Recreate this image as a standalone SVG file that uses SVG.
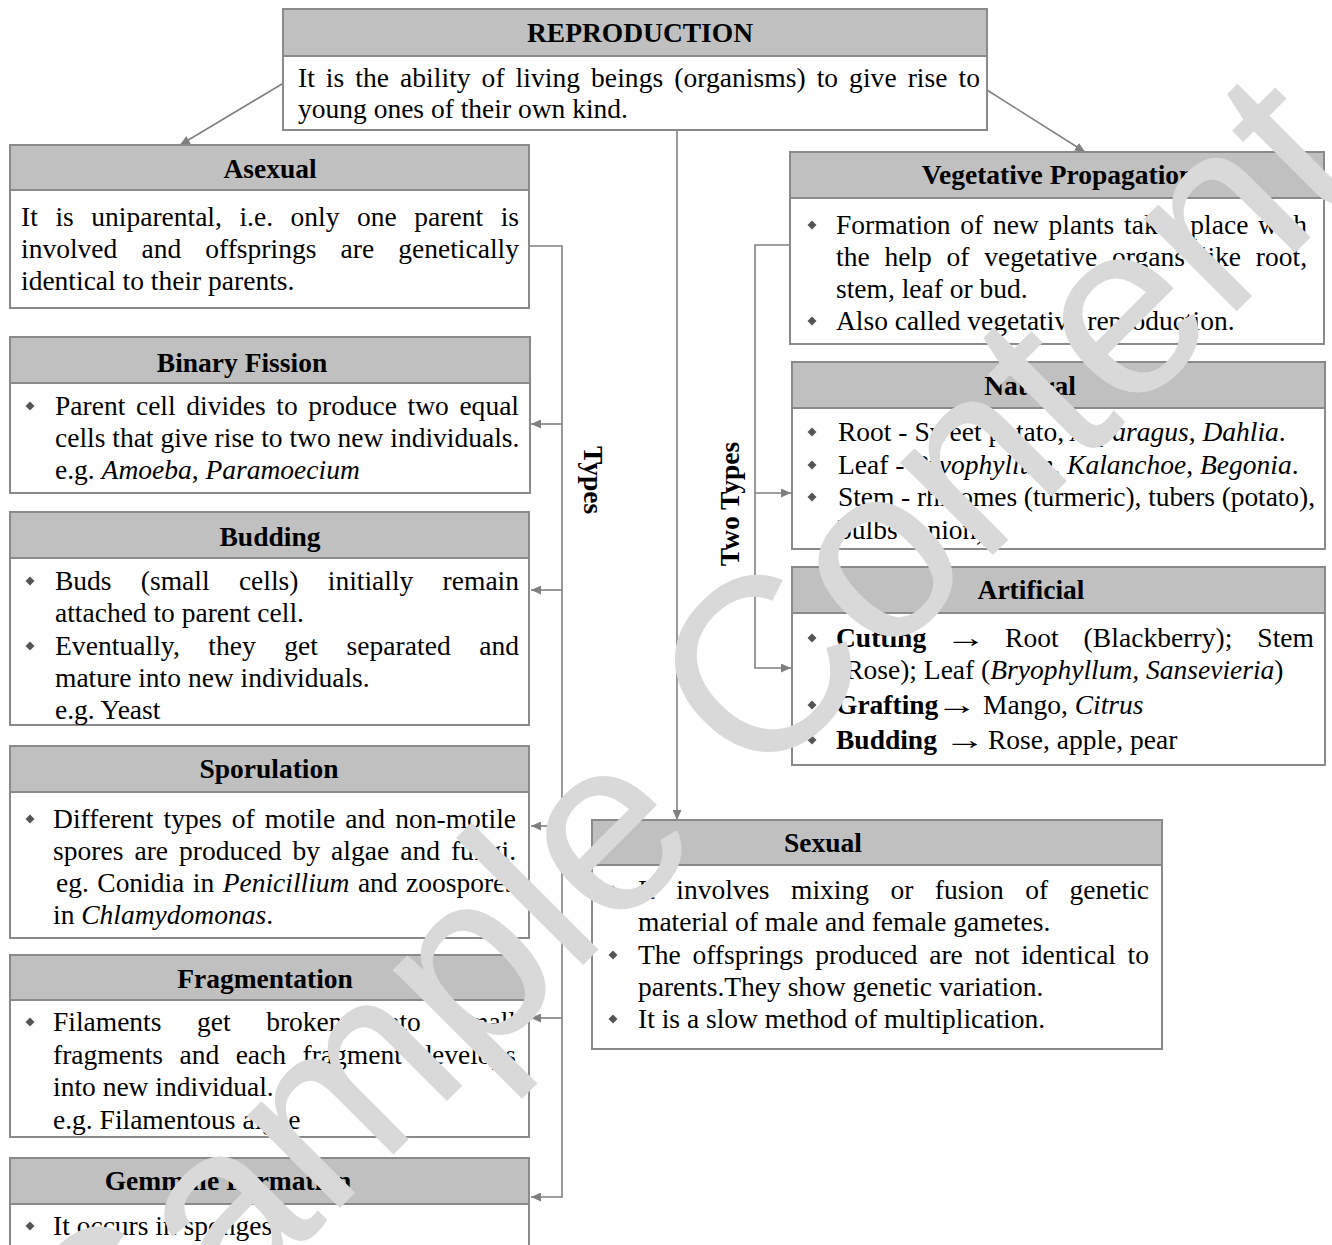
<svg xmlns="http://www.w3.org/2000/svg" width="1332" height="1245" viewBox="0 0 1332 1245">
<style>
.box{fill:#fff;stroke:#8a8a8a;stroke-width:2}
.hd{fill:#c0c0c0;stroke:#8a8a8a;stroke-width:2}
text{font-family:"Liberation Serif","Times New Roman",serif;font-size:27.5px;fill:#000}
.ti{font-weight:bold;text-anchor:middle}
.b{font-weight:bold}
.i{font-style:italic}
.conn{fill:none;stroke:#808080;stroke-width:1.6}
.wm{font-family:"Liberation Sans",Arial,sans-serif;font-size:248px;fill:#d9d9d9;text-anchor:middle}
</style>
<defs>
<marker id="ah" markerUnits="userSpaceOnUse" markerWidth="11" markerHeight="9" refX="10" refY="4.5" orient="auto"><path d="M0,0 L10,4.5 L0,9 z" fill="#808080"/></marker>
<path id="dm" d="M0,-4.5 L4.5,0 L0,4.5 L-4.5,0z" fill="#555"/>
</defs>

<g id="connectors">
<line class="conn" x1="282" y1="84" x2="180" y2="145" marker-end="url(#ah)"/>
<line class="conn" x1="987" y1="90" x2="1085" y2="152" marker-end="url(#ah)"/>
<line class="conn" x1="677" y1="130" x2="677" y2="820" marker-end="url(#ah)"/>
<polyline class="conn" points="529,246 562,246 562,1197 531,1197" marker-end="url(#ah)"/>
<line class="conn" x1="562" y1="424" x2="531" y2="424" marker-end="url(#ah)"/>
<line class="conn" x1="562" y1="590" x2="531" y2="590" marker-end="url(#ah)"/>
<line class="conn" x1="562" y1="826" x2="531" y2="826" marker-end="url(#ah)"/>
<line class="conn" x1="562" y1="1018" x2="531" y2="1018" marker-end="url(#ah)"/>
<polyline class="conn" points="790,245 755,245 755,668 791,668" marker-end="url(#ah)"/>
<line class="conn" x1="755" y1="493" x2="791" y2="493" marker-end="url(#ah)"/>
<text class="b" transform="translate(584,480) rotate(90)" text-anchor="middle">Types</text>
<text class="b" transform="translate(739,504) rotate(-90)" text-anchor="middle">Two Types</text>
</g>

<g id="reproduction">
<rect class="box" x="283" y="9" width="704" height="121"/>
<rect class="hd" x="283" y="9" width="704" height="47"/>
<text class="ti" x="640" y="42">REPRODUCTION</text>
<text x="298" y="87" word-spacing="4" textLength="682" lengthAdjust="spacing">It is the ability of living beings (organisms) to give rise to</text>
<text x="298" y="118">young ones of their own kind.</text>
</g>

<g id="asexual">
<rect class="box" x="10" y="145" width="519" height="163"/>
<rect class="hd" x="10" y="145" width="519" height="45"/>
<text class="ti" x="270" y="178">Asexual</text>
<text x="21" y="226" word-spacing="10.7" textLength="498" lengthAdjust="spacing">It is uniparental, i.e. only one parent is</text>
<text x="21" y="258" word-spacing="17.2" textLength="498" lengthAdjust="spacing">involved and offsprings are genetically</text>
<text x="21" y="290">identical to their parents.</text>
</g>

<g id="binary-fission">
<rect class="box" x="10" y="337" width="520" height="156"/>
<rect class="hd" x="10" y="337" width="520" height="46"/>
<text class="ti" x="242" y="372">Binary Fission</text>
<use href="#dm" x="30" y="406"/>
<text x="55" y="415" word-spacing="3.7" textLength="464" lengthAdjust="spacing">Parent cell divides to produce two equal</text>
<text x="55" y="447">cells that give rise to two new individuals.</text>
<text x="55" y="479">e.g. <tspan class="i">Amoeba</tspan>, <tspan class="i">Paramoecium</tspan></text>
</g>

<g id="budding">
<rect class="box" x="10" y="512" width="519" height="213"/>
<rect class="hd" x="10" y="512" width="519" height="46"/>
<text class="ti" x="270" y="546">Budding</text>
<use href="#dm" x="30" y="581"/>
<use href="#dm" x="30" y="646"/>
<text x="55" y="590" word-spacing="22.4" textLength="464" lengthAdjust="spacing">Buds (small cells) initially remain</text>
<text x="55" y="622">attached to parent cell.</text>
<text x="55" y="655" word-spacing="21.5" textLength="464" lengthAdjust="spacing">Eventually, they get separated and</text>
<text x="55" y="687">mature into new individuals.</text>
<text x="55" y="719">e.g. Yeast</text>
</g>

<g id="sporulation">
<rect class="box" x="10" y="746" width="519" height="192"/>
<rect class="hd" x="10" y="746" width="519" height="46"/>
<text class="ti" x="269" y="778">Sporulation</text>
<use href="#dm" x="30" y="819"/>
<text x="53" y="828" word-spacing="3.2" textLength="463" lengthAdjust="spacing">Different types of motile and non-motile</text>
<text x="53" y="860" word-spacing="4" textLength="463" lengthAdjust="spacing">spores are produced by algae and fungi.</text>
<text x="56" y="892" word-spacing="1.6" textLength="460" lengthAdjust="spacing">eg. Conidia in <tspan class="i">Penicillium</tspan> and zoospores</text>
<text x="53" y="924">in <tspan class="i">Chlamydomonas</tspan>.</text>
</g>

<g id="fragmentation">
<rect class="box" x="10" y="955" width="519" height="182"/>
<rect class="hd" x="10" y="955" width="519" height="45"/>
<text class="ti" x="265" y="988">Fragmentation</text>
<use href="#dm" x="30" y="1022"/>
<text x="53" y="1031" word-spacing="28.7" textLength="463" lengthAdjust="spacing">Filaments get broken into small</text>
<text x="53" y="1064" word-spacing="9.6" textLength="463" lengthAdjust="spacing">fragments and each fragment develops</text>
<text x="53" y="1096">into new individual.</text>
<text x="53" y="1129">e.g. Filamentous algae</text>
</g>

<g id="gemmule-formation">
<rect class="box" x="10" y="1158" width="519" height="100"/>
<rect class="hd" x="10" y="1158" width="519" height="46"/>
<text class="ti" x="228" y="1190">Gemmule Formation</text>
<use href="#dm" x="30" y="1226"/>
<text x="53" y="1235">It occurs in sponges.</text>
</g>

<g id="vegetative-propagation">
<rect class="box" x="790" y="152" width="534" height="192"/>
<rect class="hd" x="790" y="152" width="534" height="46"/>
<text class="ti" x="1058" y="184">Vegetative Propagation</text>
<use href="#dm" x="812" y="225"/>
<use href="#dm" x="812" y="321"/>
<text x="836" y="234" word-spacing="2.9" textLength="471" lengthAdjust="spacing">Formation of new plants takes place with</text>
<text x="836" y="266" word-spacing="7.85" textLength="471" lengthAdjust="spacing">the help of vegetative organs like root,</text>
<text x="836" y="298">stem, leaf or bud.</text>
<text x="836" y="330">Also called vegetative reproduction.</text>
</g>

<g id="natural">
<rect class="box" x="792" y="362" width="533" height="187"/>
<rect class="hd" x="792" y="362" width="533" height="46"/>
<text class="ti" x="1030" y="395">Natural</text>
<use href="#dm" x="812" y="432"/>
<use href="#dm" x="812" y="465"/>
<use href="#dm" x="812" y="497"/>
<text x="838" y="441">Root - Sweet potato, <tspan class="i">Asparagus</tspan>, <tspan class="i">Dahlia</tspan>.</text>
<text x="838" y="474">Leaf - <tspan class="i">Bryophyllum</tspan>, <tspan class="i">Kalanchoe</tspan>, <tspan class="i">Begonia</tspan>.</text>
<text x="838" y="506" textLength="477" lengthAdjust="spacing">Stem - rhizomes (turmeric), tubers (potato),</text>
<text x="838" y="539">bulbs (onion).</text>
</g>

<g id="artificial">
<rect class="box" x="792" y="567" width="533" height="198"/>
<rect class="hd" x="792" y="567" width="533" height="46"/>
<text class="ti" x="1031" y="599">Artificial</text>
<use href="#dm" x="812" y="638"/>
<use href="#dm" x="812" y="705"/>
<use href="#dm" x="812" y="740"/>
<text class="b" x="836" y="647">Cutting</text>
<text transform="translate(945,647) scale(1.5,1)">→</text>
<text x="1005" y="647" word-spacing="18" textLength="309" lengthAdjust="spacing">Root (Blackberry); Stem</text>
<text x="836" y="679">(Rose); Leaf (<tspan class="i">Bryophyllum, Sansevieria</tspan>)</text>
<text class="b" x="836" y="714">Grafting</text>
<text transform="translate(936,714) scale(1.5,1)">→</text>
<text x="983" y="714">Mango, <tspan class="i">Citrus</tspan></text>
<text class="b" x="836" y="749">Budding</text>
<text transform="translate(944,749) scale(1.5,1)">→</text>
<text x="988" y="749">Rose, apple, pear</text>
</g>

<g id="sexual">
<rect class="box" x="592" y="820" width="570" height="229"/>
<rect class="hd" x="592" y="820" width="570" height="45"/>
<text class="ti" x="823" y="852">Sexual</text>
<use href="#dm" x="613" y="890"/>
<use href="#dm" x="613" y="955"/>
<use href="#dm" x="613" y="1019"/>
<text x="638" y="899" word-spacing="14.6" textLength="511" lengthAdjust="spacing">It involves mixing or fusion of genetic</text>
<text x="638" y="931">material of male and female gametes.</text>
<text x="638" y="964" word-spacing="4.7" textLength="511" lengthAdjust="spacing">The offsprings produced are not identical to</text>
<text x="638" y="996">parents.They show genetic variation.</text>
<text x="638" y="1028">It is a slow method of multiplication.</text>
</g>

<g id="watermark">
<text class="wm" transform="translate(742,806) rotate(-45)">Sample Content</text>
</g>
</svg>
